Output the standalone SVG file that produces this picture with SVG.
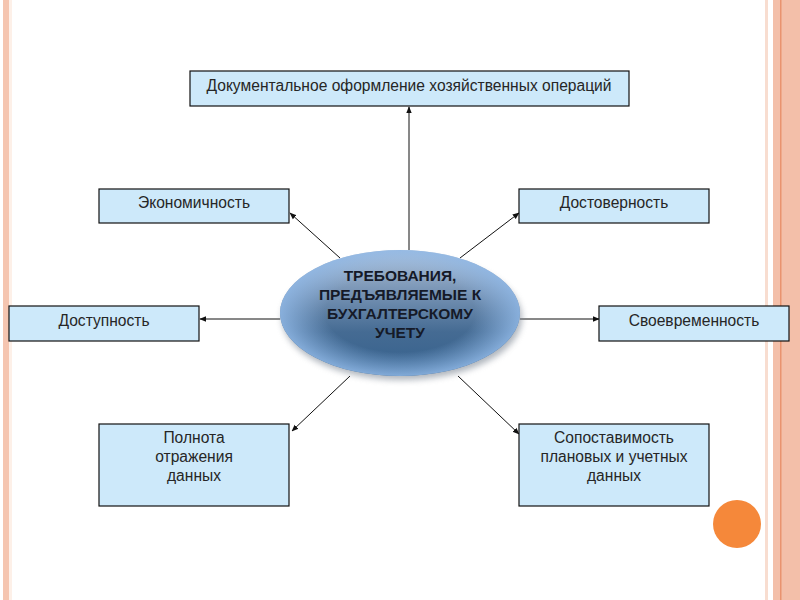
<svg xmlns="http://www.w3.org/2000/svg" width="800" height="600" viewBox="0 0 800 600">
<defs>
<style>
.box{fill:#cde9fa;stroke:#111;stroke-width:1.2}
.t{font-family:"Liberation Sans",Arial,sans-serif;font-size:15.6px;fill:#262626;text-anchor:middle}
.c{font-family:"Liberation Sans",Arial,sans-serif;font-size:15.5px;font-weight:bold;fill:#151a28;text-anchor:middle}
.ln{stroke:#111;stroke-width:1;fill:none;marker-end:url(#ah)}
</style>
<marker id="ah" viewBox="0 0 10 10" refX="9" refY="5" markerWidth="7" markerHeight="7" orient="auto" markerUnits="userSpaceOnUse">
<path d="M0,1 L10,5 L0,9 z" fill="#111"/>
</marker>
<linearGradient id="eg" x1="0" y1="0" x2="0" y2="1">
<stop offset="0" stop-color="#b3c4d8"/>
<stop offset="0.3" stop-color="#7d98b8"/>
<stop offset="0.65" stop-color="#456b93"/>
<stop offset="1" stop-color="#34608c"/>
</linearGradient>
<radialGradient id="eg2" cx="0.5" cy="0.5" r="0.5">
<stop offset="0.62" stop-color="#90b8e6" stop-opacity="0"/>
<stop offset="1" stop-color="#90b8e6" stop-opacity="0.85"/>
</radialGradient>
<filter id="sh" x="-20%" y="-20%" width="140%" height="140%">
<feGaussianBlur stdDeviation="3"/>
</filter>
</defs>
<rect width="800" height="600" fill="#ffffff"/>
<rect x="3" y="0" width="6" height="600" fill="#f5c5b0"/>
<rect x="9" y="0" width="3" height="600" fill="#fdf0e8"/>
<rect x="765" y="0" width="3" height="600" fill="#f8ddd0"/>
<rect x="773" y="0" width="27" height="600" fill="#f3bfa9"/>
<rect x="780" y="0" width="1.5" height="600" fill="#e9936f"/>
<circle cx="737" cy="524" r="24" fill="#f5883a"/>
<g id="connectors">
<line class="ln" x1="409" y1="250" x2="409" y2="107"/>
<line class="ln" x1="340" y1="258" x2="290" y2="213"/>
<line class="ln" x1="460" y1="258" x2="519" y2="213"/>
<line class="ln" x1="280" y1="319" x2="200" y2="319"/>
<line class="ln" x1="520" y1="319" x2="599" y2="319"/>
<line class="ln" x1="350" y1="376" x2="292" y2="431"/>
<line class="ln" x1="458" y1="376" x2="519" y2="434"/>
</g>
<g id="center">
<ellipse cx="402" cy="318" rx="120" ry="62" fill="#7b8592" opacity="0.6" filter="url(#sh)"/>
<ellipse cx="400" cy="313" rx="120" ry="63" fill="url(#eg)"/>
<ellipse cx="400" cy="313" rx="120" ry="63" fill="url(#eg2)"/>
<text class="c" x="400" y="281">ТРЕБОВАНИЯ,</text>
<text class="c" x="400" y="300">ПРЕДЪЯВЛЯЕМЫЕ К</text>
<text class="c" x="400" y="319">БУХГАЛТЕРСКОМУ</text>
<text class="c" x="400" y="338">УЧЕТУ</text>
</g>
<g id="n-doc">
<rect class="box" x="190" y="71" width="439" height="35"/>
<text class="t" x="409" y="91">Документальное оформление хозяйственных операций</text>
</g>
<g id="n-econ">
<rect class="box" x="99" y="189" width="190" height="34"/>
<text class="t" x="194" y="208">Экономичность</text>
</g>
<g id="n-dost">
<rect class="box" x="519" y="189" width="190" height="34"/>
<text class="t" x="614" y="208">Достоверность</text>
</g>
<g id="n-dostup">
<rect class="box" x="9" y="306" width="190" height="35"/>
<text class="t" x="104" y="326">Доступность</text>
</g>
<g id="n-svoev">
<rect class="box" x="599" y="306" width="190" height="35"/>
<text class="t" x="694" y="326">Своевременность</text>
</g>
<g id="n-poln">
<rect class="box" x="99" y="424" width="190" height="82"/>
<text class="t" x="194" y="443">Полнота</text>
<text class="t" x="194" y="462">отражения</text>
<text class="t" x="194" y="481">данных</text>
</g>
<g id="n-sopost">
<rect class="box" x="519" y="424" width="190" height="82"/>
<text class="t" x="614" y="443">Сопоставимость</text>
<text class="t" x="614" y="462">плановых и учетных</text>
<text class="t" x="614" y="481">данных</text>
</g>
</svg>
